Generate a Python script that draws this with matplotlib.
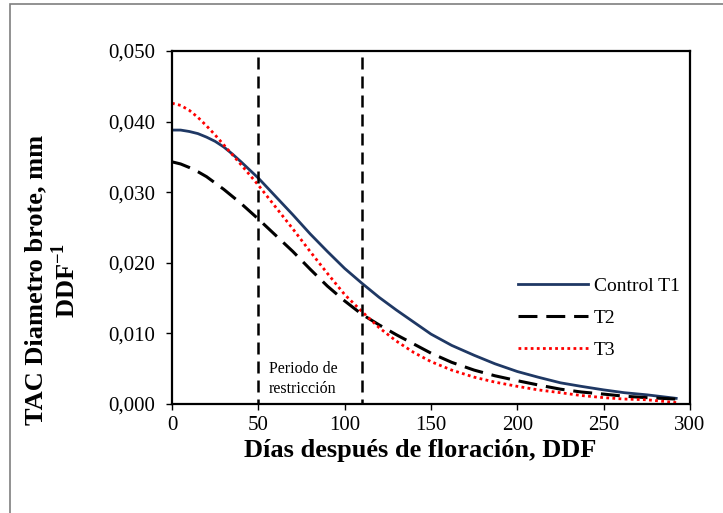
import matplotlib
matplotlib.use("Agg")
import matplotlib.pyplot as plt
from matplotlib.patches import Rectangle

plt.rcParams['font.family'] = ['Liberation Serif', 'DejaVu Serif']
plt.rcParams['mathtext.fontset'] = 'custom'
plt.rcParams['mathtext.rm'] = 'Liberation Serif'
plt.rcParams['mathtext.bf'] = 'Liberation Serif:bold'

# days after flowering
days = [0, 5, 10, 15, 20, 25, 30, 35, 40, 50, 60, 70, 80, 90, 100, 110, 120,
        130, 140, 150, 162, 175, 187, 200, 212, 225, 237, 250, 262, 275, 292]

control_t1 = [0.0388, 0.0388, 0.0386, 0.0383, 0.0378, 0.0372, 0.0364, 0.0354,
              0.0343, 0.0320, 0.0294, 0.0268, 0.0241, 0.0216, 0.0192, 0.0171,
              0.0151, 0.0133, 0.0116, 0.0099, 0.0083, 0.0069, 0.0057, 0.0046,
              0.0038, 0.0030, 0.0025, 0.0020, 0.0016, 0.0013, 0.0008]
t2 = [0.0343, 0.0340, 0.0335, 0.0329, 0.0322, 0.0313, 0.0304, 0.0294,
      0.0284, 0.0262, 0.0239, 0.0216, 0.0191, 0.0167, 0.0146, 0.0127,
      0.0112, 0.0098, 0.0085, 0.0072, 0.0059, 0.0048, 0.0040, 0.0033,
      0.0027, 0.0021, 0.0017, 0.0014, 0.0011, 0.0009, 0.0007]
t3 = [0.0426, 0.0423, 0.0416, 0.0406, 0.0394, 0.0381, 0.0367, 0.0353,
      0.0339, 0.0310, 0.0279, 0.0248, 0.0216, 0.0185, 0.0155, 0.0131,
      0.0108, 0.0089, 0.0073, 0.0060, 0.0048, 0.0038, 0.0031, 0.0025,
      0.0020, 0.0016, 0.0012, 0.0009, 0.0007, 0.0006, 0.0002]

# restriction period limits
restr_x = [50, 110]
restr_top = 0.0492

fig = plt.figure(figsize=(7.23, 5.13), dpi=100)
ax = fig.add_axes([172/723, 1-404/513, 518/723, 353/513])

ax.plot(days, control_t1, color='#1f3864', lw=2.0, label='Control T1')
ax.plot(days, t2, color='black', lw=2.2, linestyle=(0, (6.2, 2.9)), label='T2')
ax.plot(days, t3, color='#ff0000', lw=2.0, linestyle=(0, (1, 1.2)), label='T3')

for xv in restr_x:
    ax.plot([xv, xv], [restr_top, 0], color='black', lw=1.8,
            linestyle=(0, (4.8, 2.8)))

ax.text(56, 0.0061, 'Periodo de\nrestricción', fontsize=11.5, ha='left',
        va='top', linespacing=1.3)

ax.set_xlim(0, 300)
ax.set_ylim(0, 0.05)
ax.set_xticks([0, 50, 100, 150, 200, 250, 300])
ax.set_yticks([0, 0.01, 0.02, 0.03, 0.04, 0.05])
ax.set_yticklabels(['0,000', '0,010', '0,020', '0,030', '0,040', '0,050'])
ax.tick_params(direction='out', length=4.3, width=1, labelsize=15)
ax.tick_params(axis='y', pad=8)
ax.tick_params(axis='x', pad=4)
for s in ax.spines.values():
    s.set_linewidth(1.6)

leg = ax.legend(loc='upper left', bbox_to_anchor=(518/723, 1-277/513),
                bbox_transform=fig.transFigure, frameon=False, fontsize=14,
                handlelength=3.6, handletextpad=0.3, labelspacing=0.75,
                borderpad=0, borderaxespad=0)

fig.text(420/723, 1-450/513, 'Días después de floración, DDF', fontsize=19,
         fontweight='bold', ha='center', va='center')
fig.text(52/723, 1-280/513, 'TAC Diametro brote, mm\nDDF$^{\\mathbf{-1}}$',
         fontsize=19, fontweight='bold', rotation=90, ha='center', va='center',
         multialignment='center', linespacing=1.15)

fig.patches.append(Rectangle((10/723, -0.1), 1.0, 1.1 - 4/513,
                             transform=fig.transFigure, fill=False,
                             edgecolor='#7f7f7f', lw=1.2))

fig.savefig('out.png', dpi=100)
